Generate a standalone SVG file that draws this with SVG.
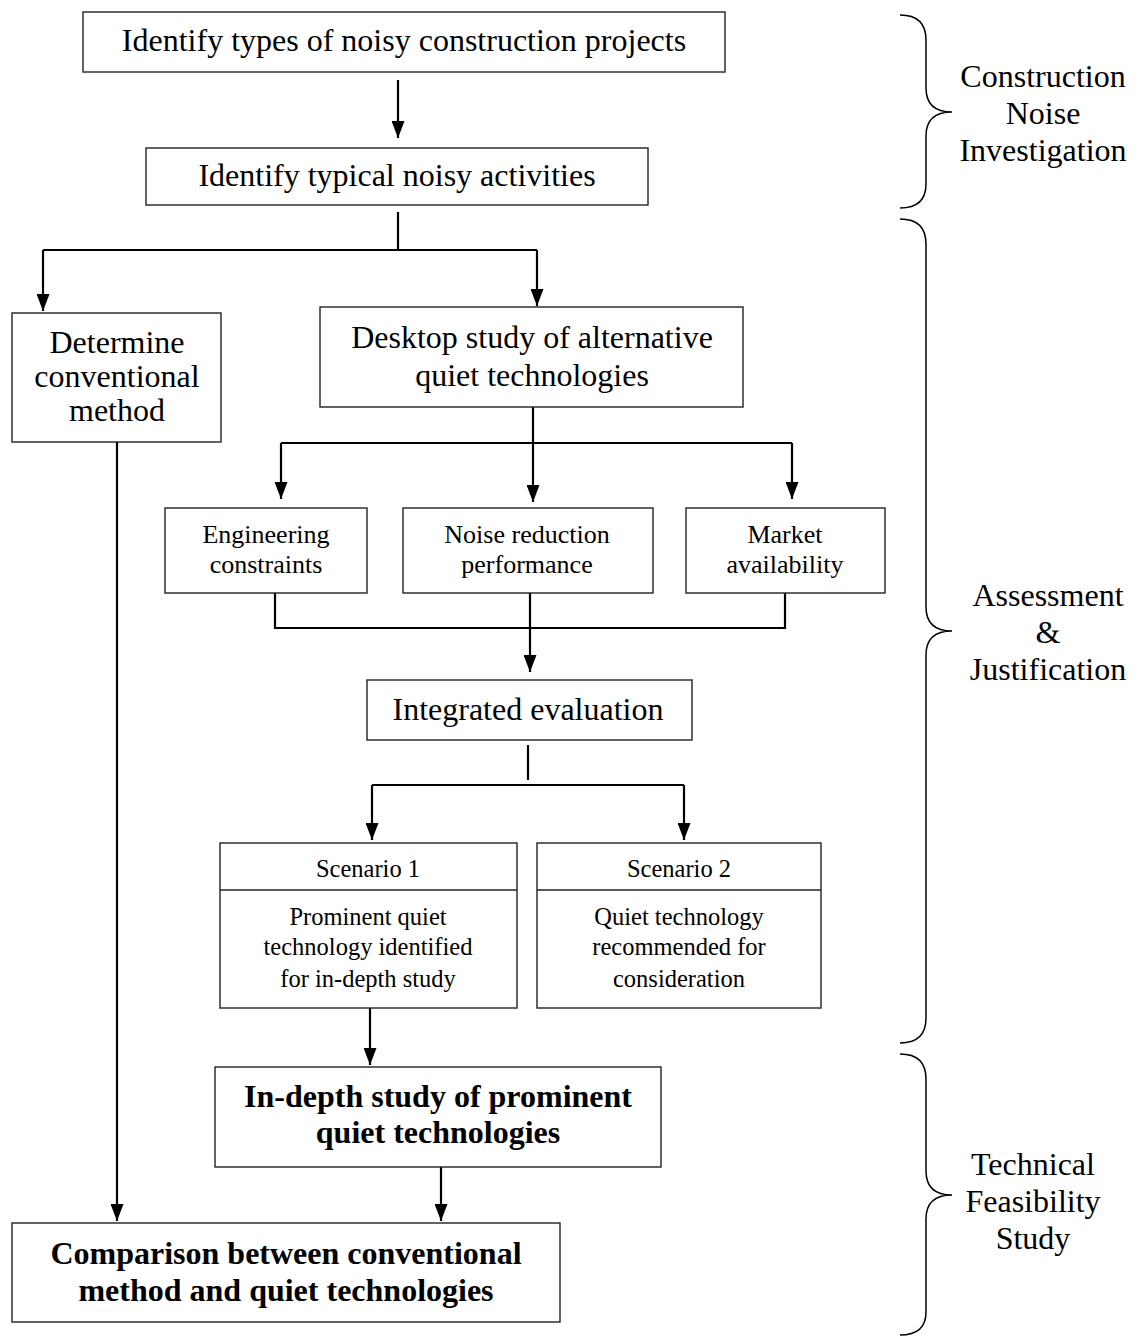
<svg xmlns="http://www.w3.org/2000/svg" width="1135" height="1336" viewBox="0 0 1135 1336">
  <style>
    .box { fill: #fff; stroke: #222; stroke-width: 1.4; }
    .t { font-family: "Liberation Serif", "Times New Roman", serif; fill: #000; text-anchor: middle; }
    .l { font-size: 32px; }
    .m { font-size: 26px; }
    .s { font-size: 24.5px; }
    .b { font-size: 32px; font-weight: bold; }
    .conn { fill: none; stroke: #000; stroke-width: 2.2; }
    .brace { fill: none; stroke: #000; stroke-width: 1.5; }
  </style>
  <defs>
    <marker id="ah" viewBox="0 0 17 13" markerWidth="17" markerHeight="13" refX="17" refY="6.5" orient="auto" markerUnits="userSpaceOnUse">
      <path d="M0,0 L17,6.5 L0,13 z" fill="#000"/>
    </marker>
  </defs>
  <rect width="1135" height="1336" fill="#fff"/>

  <!-- connectors -->
  <g id="connectors" class="conn">
    <path d="M398,80 V138" marker-end="url(#ah)"/>
    <path d="M398,212 V250"/>
    <path d="M43,250 H537"/>
    <path d="M43,250 V311" marker-end="url(#ah)"/>
    <path d="M537,250 V306" marker-end="url(#ah)"/>
    <path d="M533,407 V502" marker-end="url(#ah)"/>
    <path d="M281,443 H792"/>
    <path d="M281,443 V499" marker-end="url(#ah)"/>
    <path d="M792,443 V499" marker-end="url(#ah)"/>
    <path d="M275,593 V628 H785 V593"/>
    <path d="M530,593 V672" marker-end="url(#ah)"/>
    <path d="M528,745 V780"/>
    <path d="M372,785 H684"/>
    <path d="M372,785 V840" marker-end="url(#ah)"/>
    <path d="M684,785 V840" marker-end="url(#ah)"/>
    <path d="M370,1008 V1065" marker-end="url(#ah)"/>
    <path d="M441,1167 V1221" marker-end="url(#ah)"/>
    <path d="M117,442 V1221" marker-end="url(#ah)"/>
  </g>

  <!-- process boxes -->
  <g id="n-types">
    <rect class="box" x="83" y="12" width="642" height="60"/>
    <text class="t l" x="404" y="51">Identify types of noisy construction projects</text>
  </g>
  <g id="n-activities">
    <rect class="box" x="146" y="148" width="502" height="57"/>
    <text class="t l" x="397" y="186">Identify typical noisy activities</text>
  </g>
  <g id="n-conventional">
    <rect class="box" x="12" y="313" width="209" height="129"/>
    <text class="t l" x="117" y="353">Determine</text>
    <text class="t l" x="117" y="387">conventional</text>
    <text class="t l" x="117" y="421">method</text>
  </g>
  <g id="n-desktop">
    <rect class="box" x="320" y="307" width="423" height="100"/>
    <text class="t l" x="532" y="348">Desktop study of alternative</text>
    <text class="t l" x="532" y="386">quiet technologies</text>
  </g>
  <g id="n-engineering">
    <rect class="box" x="165" y="508" width="202" height="85"/>
    <text class="t m" x="266" y="543">Engineering</text>
    <text class="t m" x="266" y="573">constraints</text>
  </g>
  <g id="n-noise">
    <rect class="box" x="403" y="508" width="250" height="85"/>
    <text class="t m" x="527" y="543">Noise reduction</text>
    <text class="t m" x="527" y="573">performance</text>
  </g>
  <g id="n-market">
    <rect class="box" x="686" y="508" width="199" height="85"/>
    <text class="t m" x="785" y="543">Market</text>
    <text class="t m" x="785" y="573">availability</text>
  </g>
  <g id="n-integrated">
    <rect class="box" x="367" y="680" width="325" height="60"/>
    <text class="t l" x="528" y="720">Integrated evaluation</text>
  </g>
  <g id="n-scenario1">
    <rect class="box" x="220" y="843" width="297" height="165"/>
    <path d="M220,890 H517" stroke="#222" stroke-width="1.4"/>
    <text class="t s" x="368" y="877">Scenario 1</text>
    <text class="t s" x="368" y="925">Prominent quiet</text>
    <text class="t s" x="368" y="955">technology identified</text>
    <text class="t s" x="368" y="987">for in-depth study</text>
  </g>
  <g id="n-scenario2">
    <rect class="box" x="537" y="843" width="284" height="165"/>
    <path d="M537,890 H821" stroke="#222" stroke-width="1.4"/>
    <text class="t s" x="679" y="877">Scenario 2</text>
    <text class="t s" x="679" y="925">Quiet technology</text>
    <text class="t s" x="679" y="955">recommended for</text>
    <text class="t s" x="679" y="987">consideration</text>
  </g>
  <g id="n-indepth">
    <rect class="box" x="215" y="1067" width="446" height="100"/>
    <text class="t b" x="438" y="1107">In-depth study of prominent</text>
    <text class="t b" x="438" y="1143">quiet technologies</text>
  </g>
  <g id="n-comparison">
    <rect class="box" x="12" y="1223" width="548" height="99"/>
    <text class="t b" x="286" y="1264">Comparison between conventional</text>
    <text class="t b" x="286" y="1301">method and quiet technologies</text>
  </g>

  <!-- stage braces -->
  <g id="stage-investigation">
    <path class="brace" d="M900,15 C916,15 926,22 926,40 L926,88 C926,104 934,112 952,112 C934,112 926,120 926,136 L926,184 C926,201 916,208 900,208"/>
    <text class="t l" x="1043" y="87">Construction</text>
    <text class="t l" x="1043" y="124">Noise</text>
    <text class="t l" x="1043" y="161">Investigation</text>
  </g>
  <g id="stage-assessment">
    <path class="brace" d="M900,219 C916,219 926,226 926,244 L926,607 C926,623 934,631 952,631 C934,631 926,639 926,655 L926,1018 C926,1036 916,1043 900,1043"/>
    <text class="t l" x="1048" y="606">Assessment</text>
    <text class="t l" x="1048" y="643">&amp;</text>
    <text class="t l" x="1048" y="680">Justification</text>
  </g>
  <g id="stage-feasibility">
    <path class="brace" d="M900,1054 C916,1054 926,1061 926,1079 L926,1171 C926,1187 934,1195 952,1195 C934,1195 926,1203 926,1219 L926,1312 C926,1328 916,1335 900,1335"/>
    <text class="t l" x="1033" y="1175">Technical</text>
    <text class="t l" x="1033" y="1212">Feasibility</text>
    <text class="t l" x="1033" y="1249">Study</text>
  </g>
</svg>
